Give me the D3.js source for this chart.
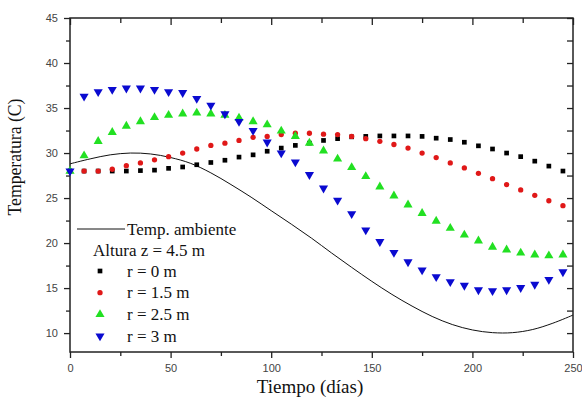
<!DOCTYPE html>
<html>
<head>
<meta charset="utf-8">
<script src="https://cdn.jsdelivr.net/npm/d3@7"></script>
<style>
body { margin: 0; background: #fff; }
.tick text { font-family: "Liberation Sans", Arial, sans-serif; font-size: 11px; fill: #444; }
.serif { font-family: "Liberation Serif", "Times New Roman", serif; fill: #111; }
</style>
</head>
<body>
<div id="chart"></div>
<script>
var svgWidth = 582;
var svgHeight = 399;

var margin = {top: 18, right: 9, bottom: 47, left: 70};
var chartWidth = svgWidth - margin.left - margin.right;
var chartHeight = svgHeight - margin.top - margin.bottom;

// days of the simulated points (every 7 days)
var days = [0,7,14,21,28,35,42,49,56,63,70,77,84,91,98,105,112,119,126,133,140,147,154,161,168,175,182,189,196,203,210,217,224,231,238,245];

var r0 = [28.0,28.0,28.0,28.0,28.0,28.05,28.1,28.3,28.45,28.7,28.95,29.2,29.55,29.8,30.2,30.55,30.85,31.1,31.4,31.6,31.8,31.85,31.9,31.9,31.9,31.85,31.65,31.5,31.2,30.8,30.45,30.0,29.6,29.1,28.55,28.0];
var r15 = [28.0,28.0,28.0,28.2,28.6,28.9,29.25,29.6,30.0,30.45,30.85,31.1,31.4,31.75,31.85,32.05,32.2,32.2,32.1,32.05,31.85,31.6,31.3,30.95,30.55,30.0,29.5,28.9,28.35,27.75,27.15,26.5,25.9,25.3,24.7,24.15];
var r25 = [28.0,29.7,31.3,32.3,33.0,33.5,33.95,34.2,34.35,34.45,34.35,34.2,33.9,33.5,33.15,32.45,31.85,31.1,30.25,29.35,28.4,27.4,26.25,25.25,24.25,23.3,22.45,21.65,20.9,20.25,19.55,19.25,18.9,18.7,18.6,18.7];
var r3 = [28.0,36.3,36.8,37.05,37.2,37.2,37.05,36.8,36.7,36.05,35.3,34.35,33.5,32.5,31.2,30.0,29.0,27.6,26.1,24.75,23.25,21.45,20.15,18.95,17.9,17.0,16.25,15.7,15.3,14.8,14.7,14.8,15.05,15.4,15.95,16.8];

// ambient temperature curve
var ambDays = [0,10,20,30,40,50,60,70,80,90,100,110,120,130,140,150,160,170,180,190,200,210,220,230,240,250];
var ambTemp = [28.8,29.35,29.8,30.0,29.9,29.5,28.85,27.8,26.5,25.1,23.6,22.1,20.55,18.9,17.3,15.75,14.3,13.0,11.85,10.95,10.35,10.05,10.05,10.4,11.1,12.0];

var xTicks = [0,50,100,150,200,250];
var xMinor = [25,75,125,175,225];
var yTicks = [10,15,20,25,30,35,40,45];
var yMinor = [12.5,17.5,22.5,27.5,32.5,37.5,42.5];

var seriesNames = ["r = 0 m","r = 1.5 m","r = 2.5 m","r = 3 m"];
var seriesValues = [r0, r15, r25, r3];
var seriesColors = ["#000000","#e01818","#22e022","#0a0ad0"];
var seriesShapes = ["square","circle","up","down"];

var svg = d3.select("#chart").append("svg")
    .attr("width", svgWidth)
    .attr("height", svgHeight);

var chartGroup = svg.append("g")
    .attr("transform", `translate(${margin.left},${margin.top})`);

var xScale = d3.scaleLinear().domain([0, 250]).range([0, chartWidth]);
var yScale = d3.scaleLinear().domain([7.9, 45]).range([chartHeight, 0]);

// ticks: bottom/left outward, top/right inward
function drawAxis(axis, transform, labels) {
    var g = chartGroup.append("g").attr("transform", transform).call(axis);
    g.select(".domain").remove();
    g.selectAll(".tick line").attr("stroke", "#222").attr("stroke-width", 1.3);
    if (!labels) g.selectAll(".tick text").remove();
    return g;
}
drawAxis(d3.axisBottom(xScale).tickValues(xTicks).tickSize(6).tickPadding(6), `translate(0,${chartHeight})`, true);
drawAxis(d3.axisBottom(xScale).tickValues(xMinor).tickSize(4), `translate(0,${chartHeight})`, false);
drawAxis(d3.axisLeft(yScale).tickValues(yTicks).tickSize(6).tickPadding(6), "translate(0,0)", true);
drawAxis(d3.axisLeft(yScale).tickValues(yMinor).tickSize(4), "translate(0,0)", false);
drawAxis(d3.axisBottom(xScale).tickValues(xTicks).tickSize(7), "translate(0,0)", false);
drawAxis(d3.axisBottom(xScale).tickValues(xMinor).tickSize(5), "translate(0,0)", false);
drawAxis(d3.axisLeft(yScale).tickValues(yTicks.concat(yMinor)).tickSize(6), `translate(${chartWidth},0)`, false);

chartGroup.append("rect")
    .attr("width", chartWidth)
    .attr("height", chartHeight)
    .attr("fill", "none")
    .attr("stroke", "#222")
    .attr("stroke-width", 1.5);

// ambient line
var line = d3.line()
    .x(function(d, i) { return xScale(ambDays[i]); })
    .y(function(d) { return yScale(d); })
    .curve(d3.curveCatmullRom);

chartGroup.append("path")
    .datum(ambTemp)
    .attr("d", line)
    .attr("fill", "none")
    .attr("stroke", "#111")
    .attr("stroke-width", 1);

function symbolPath(shape) {
    if (shape === "square") return d3.symbol().type(d3.symbolSquare).size(22)();
    if (shape === "circle") return d3.symbol().type(d3.symbolCircle).size(22)();
    return d3.symbol().type(d3.symbolTriangle).size(36)();
}

seriesValues.forEach(function(vals, s) {
    chartGroup.selectAll(null)
        .data(vals)
        .enter()
        .append("path")
        .attr("d", symbolPath(seriesShapes[s]))
        .attr("transform", function(d, i) {
            var rot = seriesShapes[s] === "down" ? " rotate(180)" : "";
            return `translate(${xScale(days[i])},${yScale(d)})` + rot;
        })
        .attr("fill", seriesColors[s]);
});

// legend
var legend = svg.append("g");
legend.append("line")
    .attr("x1", 77).attr("x2", 125)
    .attr("y1", 229).attr("y2", 229)
    .attr("stroke", "#111").attr("stroke-width", 1);
legend.append("text").classed("serif", true)
    .attr("x", 127).attr("y", 234.5)
    .style("font-size", "17px")
    .text("Temp. ambiente");
legend.append("text").classed("serif", true)
    .attr("x", 93).attr("y", 256)
    .style("font-size", "17px")
    .text("Altura z = 4.5 m");

seriesNames.forEach(function(name, s) {
    var yy = 271 + s * 21.7;
    legend.append("path")
        .attr("d", symbolPath(seriesShapes[s]))
        .attr("transform", `translate(100,${yy})` + (seriesShapes[s] === "down" ? " rotate(180)" : ""))
        .attr("fill", seriesColors[s]);
    legend.append("text").classed("serif", true)
        .attr("x", 127).attr("y", yy + 5.5)
        .style("font-size", "17px")
        .text(name);
});

// axis titles
svg.append("text").classed("serif", true)
    .attr("transform", "rotate(-90)")
    .attr("x", -157)
    .attr("y", 21)
    .attr("text-anchor", "middle")
    .attr("textLength", 117)
    .attr("lengthAdjust", "spacingAndGlyphs")
    .style("font-size", "18px")
    .text("Temperatura (C)");

svg.append("text").classed("serif", true)
    .attr("x", 310)
    .attr("y", 393)
    .attr("text-anchor", "middle")
    .style("font-size", "19px")
    .text("Tiempo (días)");
</script>
</body>
</html>
